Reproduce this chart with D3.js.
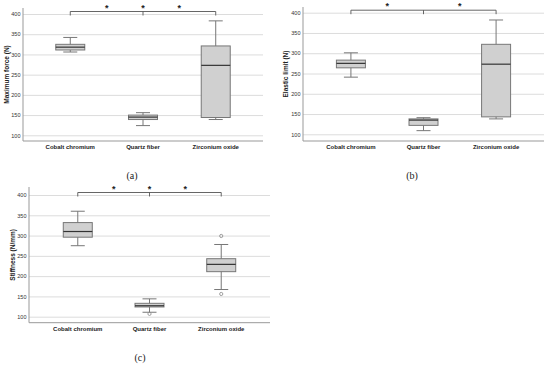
<!DOCTYPE html>
<html>
<head>
<meta charset="utf-8">
<script src="https://cdn.jsdelivr.net/npm/d3@7"></script>
<style>
  body { margin: 0; background: #fff; }
  svg text { font-family: "Liberation Sans", Arial, sans-serif; }
</style>
</head>
<body>
<script>
'use strict';

// categories shared by all three panels
const categories = ['Cobalt chromium', 'Quartz fiber', 'Zirconium oxide'];
const yTicks = [100, 150, 200, 250, 300, 350, 400];

// box stats: [whisker low, q1, median, q3, whisker high]
const forceStats = [[306, 311, 318, 325, 342], [124, 139, 145, 150, 156], [139, 144, 273, 321, 383]];
const elasticStats = [[241, 264, 275, 283, 301], [109, 122, 135, 138, 141], [138, 143, 273, 322, 382]];
const stiffnessStats = [[275, 296, 310, 332, 360], [111, 124, 127, 133, 144], [167, 211, 229, 243, 278]];
const stiffnessOutliers = [[], [107], [299, 156]];

// significance stars, in category index units
const starsA = [0.5, 1, 1.5];
const starsB = [0.5, 1.5];
const starsC = [0.5, 1, 1.5];

let svg;

window.onload = function() {
  svg = d3.select('body').append('svg')
    .attr('width', 550)
    .attr('height', 366);

  drawPanel({ left: 23, right: 263, y400: 14, y100: 135.3, top: 8, bottom: 141, pad: 0.65,
    title: 'Maximum force (N)', titleX: 7, stats: forceStats, outliers: null, stars: starsA,
    tag: '(a)', tagX: 132, tagY: 179 });
  drawPanel({ left: 303, right: 544, y400: 12.7, y100: 134.3, top: 7, bottom: 141, pad: 0.66,
    title: 'Elastic limit (N)', titleX: 286, stats: elasticStats, outliers: null, stars: starsB,
    tag: '(b)', tagX: 412, tagY: 179 });
  drawPanel({ left: 29, right: 270, y400: 195, y100: 316.7, top: 187, bottom: 322.7, pad: 0.68,
    title: 'Stiffness (N/mm)', titleX: 13, stats: stiffnessStats, outliers: stiffnessOutliers, stars: starsC,
    tag: '(c)', tagX: 140, tagY: 361 });
};

function drawPanel(o) {
  const g = svg.append('g');

  const y = d3.scaleLinear().domain([100, 400]).range([o.y100, o.y400]);
  const x = d3.scalePoint().domain(categories).range([o.left, o.right]).padding(o.pad);
  const idx = d3.scaleLinear().domain([0, 1]).range([x(categories[0]), x(categories[1])]);
  const boxW = 29, capW = 14;

  // gridlines
  g.append('g')
    .attr('transform', 'translate(' + o.left + ',0)')
    .call(d3.axisLeft(y).tickValues(yTicks).tickSize(-(o.right - o.left)).tickFormat(''))
    .call((s) => s.select('.domain').remove())
    .selectAll('line')
    .attr('stroke', '#dcdcdc')
    .attr('stroke-width', 1);

  // tick labels
  g.append('g')
    .attr('transform', 'translate(' + (o.left - 1) + ',0)')
    .call(d3.axisLeft(y).tickValues(yTicks).tickSize(0).tickPadding(1.5))
    .call((s) => s.select('.domain').remove())
    .selectAll('text')
    .attr('fill', '#333')
    .style('font-size', '5.5px');

  // axis lines
  g.append('line')
    .attr('x1', o.left).attr('x2', o.left)
    .attr('y1', o.top).attr('y2', o.bottom)
    .attr('stroke', '#999');
  g.append('line')
    .attr('x1', o.left).attr('x2', o.right)
    .attr('y1', o.bottom).attr('y2', o.bottom)
    .attr('stroke', '#999');

  // y title
  g.append('text')
    .attr('transform', 'translate(' + o.titleX + ',' + ((o.top + o.bottom) / 2) + ')rotate(-90)')
    .attr('text-anchor', 'middle')
    .attr('dominant-baseline', 'middle')
    .style('font-size', '6.5px')
    .style('font-weight', 'bold')
    .attr('fill', '#222')
    .text(o.title);

  // category labels
  g.selectAll('.cat')
    .data(categories)
    .enter()
    .append('text')
    .attr('x', (d) => x(d))
    .attr('y', o.bottom + 8)
    .attr('text-anchor', 'middle')
    .style('font-size', '6px')
    .style('font-weight', 'bold')
    .attr('fill', '#222')
    .text((d) => d);

  // boxes
  const box = g.selectAll('.box')
    .data(o.stats)
    .enter()
    .append('g')
    .attr('transform', (d, i) => 'translate(' + x(categories[i]) + ',0)');

  box.append('line')
    .attr('x1', 0).attr('x2', 0)
    .attr('y1', (d) => y(d[0])).attr('y2', (d) => y(d[4]))
    .attr('stroke', '#777');
  box.append('line')
    .attr('x1', -capW / 2).attr('x2', capW / 2)
    .attr('y1', (d) => y(d[4])).attr('y2', (d) => y(d[4]))
    .attr('stroke', '#777');
  box.append('line')
    .attr('x1', -capW / 2).attr('x2', capW / 2)
    .attr('y1', (d) => y(d[0])).attr('y2', (d) => y(d[0]))
    .attr('stroke', '#777');
  box.append('rect')
    .attr('x', -boxW / 2)
    .attr('width', boxW)
    .attr('y', (d) => y(d[3]))
    .attr('height', (d) => y(d[1]) - y(d[3]))
    .attr('fill', '#d0d0d0')
    .attr('stroke', '#777');
  box.append('line')
    .attr('x1', -boxW / 2).attr('x2', boxW / 2)
    .attr('y1', (d) => y(d[2])).attr('y2', (d) => y(d[2]))
    .attr('stroke', '#333')
    .attr('stroke-width', 1.2);

  // outliers
  if (o.outliers) {
    o.outliers.forEach((vals, i) => {
      g.selectAll('.out' + i)
        .data(vals)
        .enter()
        .append('circle')
        .attr('cx', x(categories[i]))
        .attr('cy', (d) => y(d))
        .attr('r', 1.6)
        .attr('fill', 'none')
        .attr('stroke', '#888')
        .attr('stroke-width', 0.8);
    });
  }

  // bracket
  const by = y(400) - 2.5;
  g.append('path')
    .attr('d', 'M' + idx(0) + ',' + (by + 4) + 'V' + by + 'H' + idx(2) + 'V' + (by + 4)
      + 'M' + idx(1) + ',' + by + 'V' + (by + 4))
    .attr('fill', 'none')
    .attr('stroke', '#555')
    .attr('stroke-width', 0.9);

  g.selectAll('.star')
    .data(o.stars)
    .enter()
    .append('text')
    .attr('x', (d) => idx(d))
    .attr('y', by - 1)
    .attr('text-anchor', 'middle')
    .style('font-size', '9px')
    .style('font-weight', 'bold')
    .attr('fill', '#222')
    .text('*');

  // panel tag
  svg.append('text')
    .attr('x', o.tagX)
    .attr('y', o.tagY)
    .attr('text-anchor', 'middle')
    .style('font-family', '"Liberation Serif", "DejaVu Serif", serif')
    .style('font-size', '10px')
    .attr('fill', '#222')
    .text(o.tag);
}
</script>
</body>
</html>
